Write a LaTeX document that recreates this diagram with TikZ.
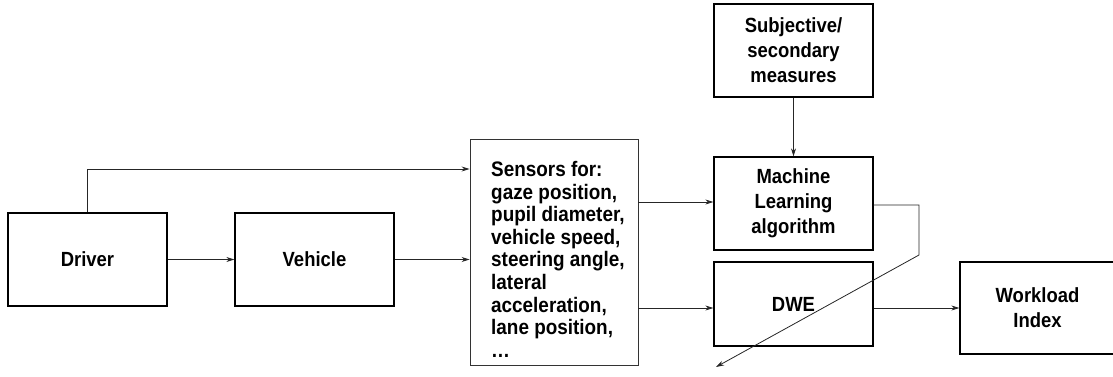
\documentclass[tikz,border=0pt]{standalone}
\usepackage{fontspec}
\setmainfont{Liberation Sans}
\newfontfamily\diagfont[FakeStretch=0.9]{Liberation Sans}
\usetikzlibrary{arrows.meta}
\begin{document}
\begin{tikzpicture}[x=1pt,y=-1pt,
  box/.style={draw, line width=1.3pt, inner sep=0pt, align=center,
    font=\diagfont\fontsize{20.5}{25}\selectfont\bfseries},
  label/.style={inner sep=0pt, align=left,
    font=\diagfont\fontsize{21}{22.6}\selectfont\bfseries},
  link/.style={line width=0.8pt, draw=black!85,
    -{Stealth[length=8pt,width=5pt,inset=2.5pt]}}]
\useasboundingbox (0,0) rectangle (1113,377);

% blocks
\node[box, minimum width=159pt, minimum height=93pt] (drv) at (87.5,259.5) {Driver};
\node[box, minimum width=159pt, minimum height=93pt] (veh) at (314.5,259.5) {Vehicle};
\node[box, line width=0.9pt, draw=black!80, minimum width=168pt, minimum height=226pt] (sens) at (554,252) {};
\node[label, anchor=north west] (senstext) at (491,161)
  {Sensors for:\\gaze position,\\pupil diameter,\\vehicle speed,\\steering angle,\\lateral\\acceleration,\\lane position,\\\dots};
\node[box, minimum width=159pt, minimum height=93pt] (subj) at (793.5,50.5) {Subjective/\\secondary\\measures};
\node[box, minimum width=159pt, minimum height=93pt] (ml) at (793.5,203.5) {Machine\\Learning\\algorithm};
\node[box, minimum width=159pt, minimum height=84pt] (dwe) at (793.5,304) {DWE};
\node[box, minimum width=155pt, minimum height=92pt] (wl) at (1037.5,308) {Workload\\Index};

% routing rows
\coordinate (r1) at (0,169);
\coordinate (r2) at (0,202);
\coordinate (r3) at (0,308);
\coordinate (r4) at (0,205);
\coordinate (k1) at (919,255);
\coordinate (tip) at (716,367);

% connectors
\draw[link] (drv.north) |- (sens.west |- r1);
\draw[link] (drv) -- (veh);
\draw[link] (veh.east) -- (sens.west |- veh.east);
\draw[link] (sens.east |- r2) -- (ml.west |- r2);
\draw[link] (sens.east |- r3) -- (dwe.west |- r3);
\draw[link] (subj) -- (ml);
\draw[link] (dwe.east |- r3) -- (wl.west |- r3);
\draw[link] (ml.east |- r4) -| (k1) -- (tip);
\end{tikzpicture}
\end{document}
